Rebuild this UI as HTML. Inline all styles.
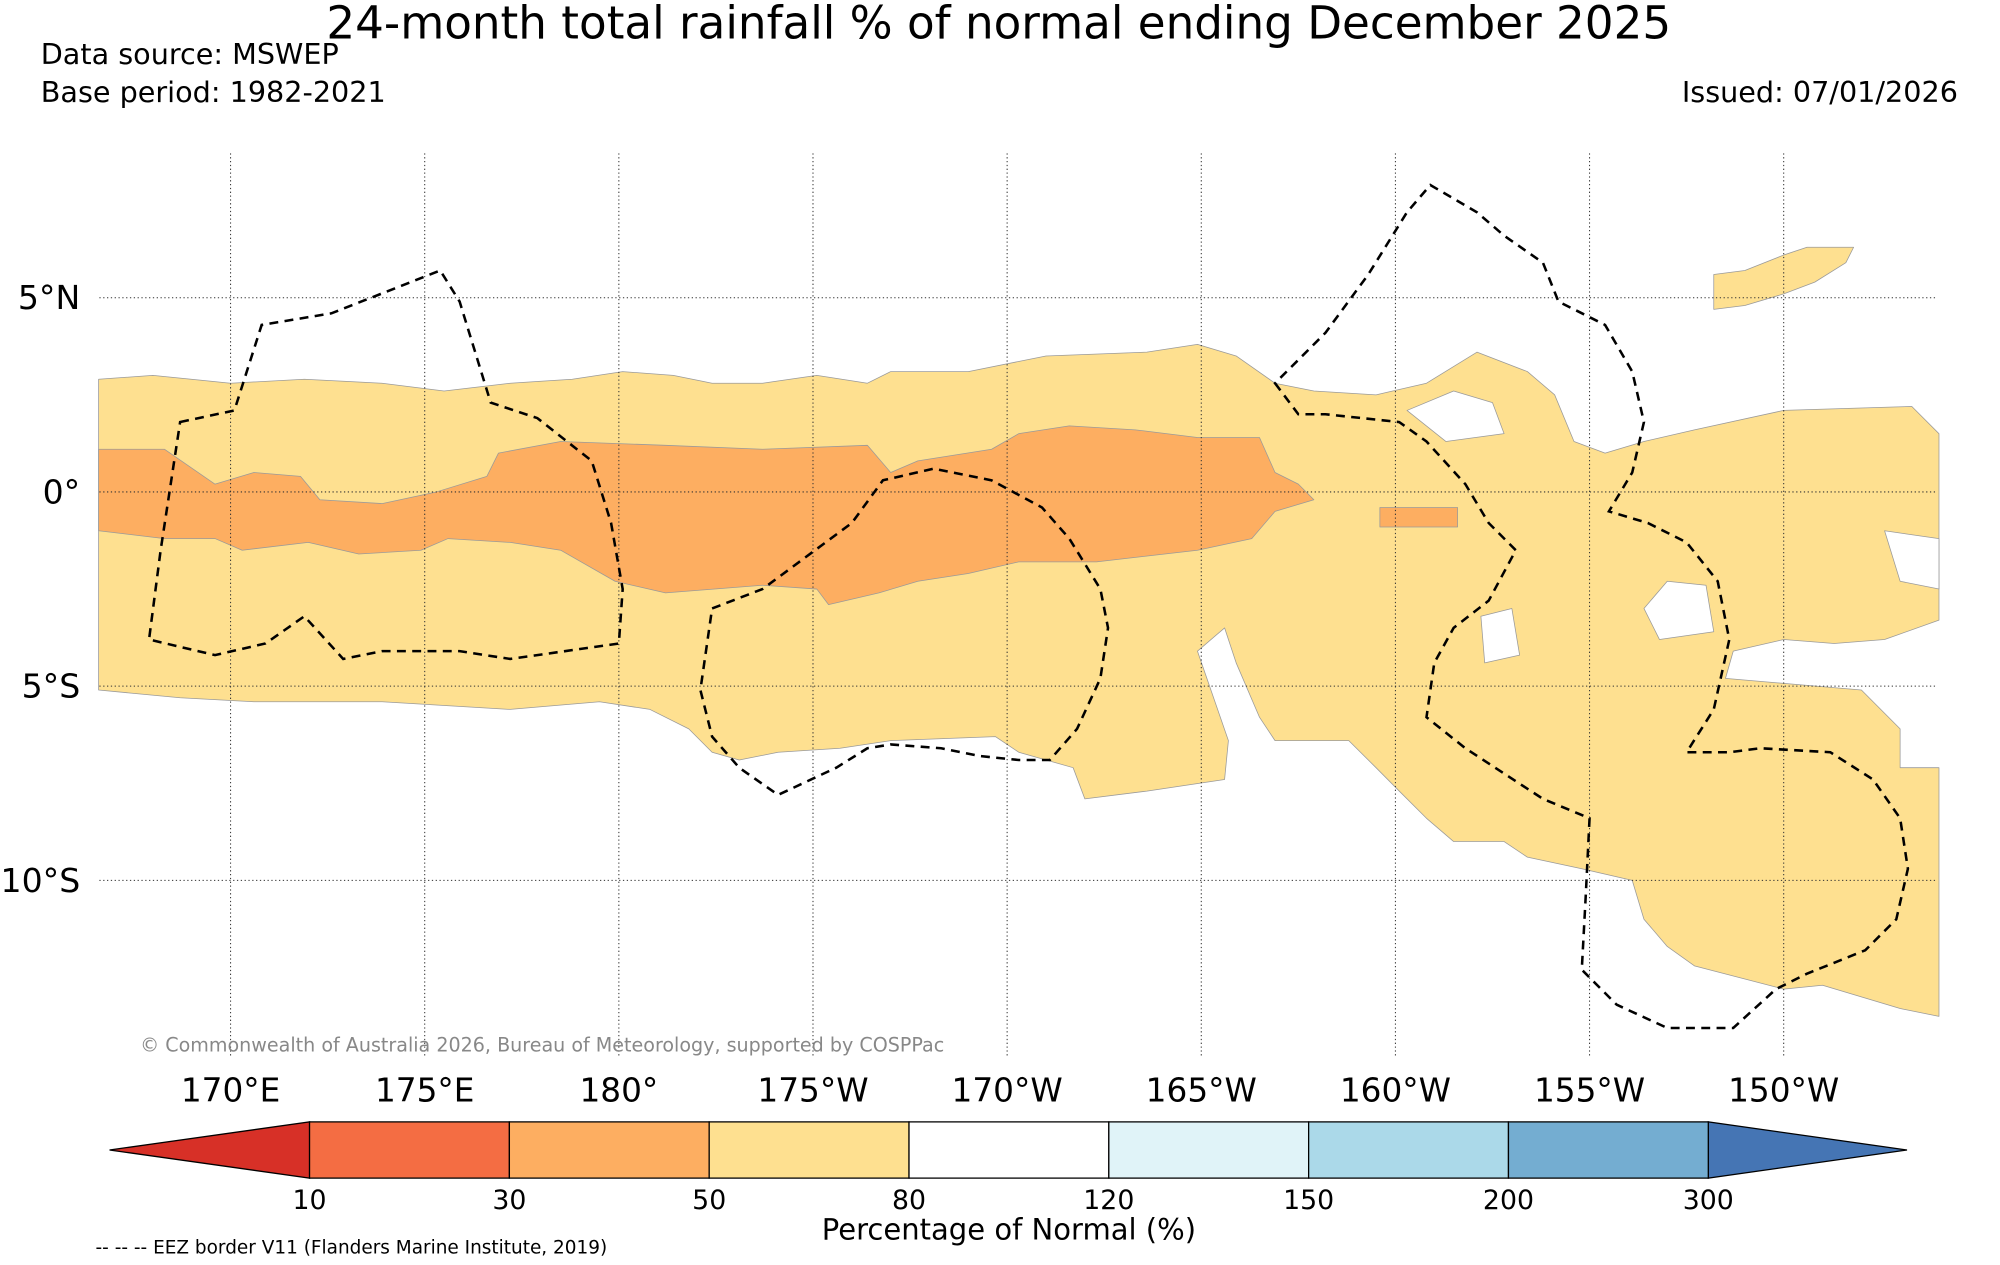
<!DOCTYPE html>
<html><head><meta charset="utf-8">
<style>
html,body{margin:0;padding:0;background:#fff;}
svg{display:block;font-family:"DejaVu Sans","Liberation Sans",sans-serif;}
</style></head>
<body>
<svg id="chart" width="2000" height="1265" viewBox="0 0 1570 990" preserveAspectRatio="none" xmlns="http://www.w3.org/2000/svg">
<text x="784" y="30" font-size="35.5" text-anchor="middle">24-month total rainfall % of normal ending December 2025</text>
<text x="32" y="50" font-size="22.5">Data source: MSWEP</text>
<text x="32" y="80" font-size="22.5">Base period: 1982-2021</text>
<text x="1537" y="80" font-size="22.5" text-anchor="end">Issued: 07/01/2026</text>
<g id="map"></g>
<g id="grid"></g>
<g id="eez"></g>
<text x="110" y="823" font-size="15" fill="#888">© Commonwealth of Australia 2026, Bureau of Meteorology, supported by COSPPac</text>
<g id="cbar"></g>
<text x="792" y="970" font-size="22.8" text-anchor="middle">Percentage of Normal (%)</text>
<text x="75" y="981" font-size="14.5">-- -- -- EEZ border V11 (Flanders Marine Institute, 2019)</text>
</svg>
<script>
// ---- data ----
const lonTicks = [170,175,180,185,190,195,200,205,210];
const lonLabels = ["170°E","175°E","180°","175°W","170°W","165°W","160°W","155°W","150°W"];
const latTicks = [5,0,-5,-10];
const latLabels = ["5°N","0°","5°S","10°S"];
const cbarBounds = [10,30,50,80,120,150,200,300];
const cbarColors = ["#f46d43","#fdae61","#fee090","#ffffff","#e0f3f8","#abd9e9","#74add1"];
const cbarLowColor = "#d73027";
const cbarHighColor = "#4575b4";
const paleRegion = [[166.6,2.9],[168.0,3.0],[170.0,2.8],[171.9,2.9],[173.9,2.8],[175.5,2.6],[177.2,2.8],[178.8,2.9],[180.1,3.1],[181.4,3.0],[182.4,2.8],[183.7,2.8],[185.1,3.0],[186.4,2.8],[187.0,3.1],[189.0,3.1],[191.0,3.5],[193.6,3.6],[194.9,3.8],[195.9,3.5],[196.9,2.8],[197.9,2.6],[199.5,2.5],[200.8,2.8],[202.1,3.6],[203.4,3.1],[204.1,2.5],[204.6,1.3],[205.4,1.0],[206.4,1.3],[207.7,1.6],[210.0,2.1],[213.3,2.2],[214.0,1.5],[214.0,-3.3],[212.6,-3.8],[211.3,-3.9],[210.0,-3.8],[208.7,-4.1],[208.5,-4.8],[212.0,-5.1],[213.0,-6.1],[213.0,-7.1],[214.0,-7.1],[214.0,-13.5],[213.0,-13.3],[211.0,-12.7],[210.0,-12.8],[207.7,-12.2],[207.0,-11.7],[206.4,-11.0],[206.1,-10.0],[204.8,-9.7],[203.4,-9.4],[202.8,-9.0],[201.5,-9.0],[200.8,-8.4],[200.1,-7.7],[199.5,-7.1],[198.8,-6.4],[196.9,-6.4],[196.5,-5.8],[195.9,-4.4],[195.6,-3.5],[194.9,-4.1],[195.7,-6.4],[195.6,-7.4],[193.6,-7.7],[192.0,-7.9],[191.7,-7.1],[190.3,-6.7],[189.7,-6.3],[187.0,-6.4],[185.7,-6.6],[184.1,-6.7],[183.1,-6.9],[182.4,-6.7],[181.8,-6.1],[180.8,-5.6],[179.5,-5.4],[177.2,-5.6],[173.9,-5.4],[170.6,-5.4],[168.7,-5.3],[166.6,-5.1]];
const paleBlobNE = [[208.2,5.6],[209.0,5.7],[210.0,6.1],[210.6,6.3],[211.8,6.3],[211.6,5.9],[210.8,5.4],[210.0,5.1],[209.0,4.8],[208.2,4.7]];
const orangeRegion = [[166.6,1.1],[168.3,1.1],[169.6,0.2],[170.6,0.5],[171.8,0.4],[172.3,-0.2],[173.9,-0.3],[175.3,0.0],[176.6,0.4],[176.9,1.0],[178.5,1.3],[181.2,1.2],[183.7,1.1],[186.4,1.2],[187.0,0.5],[187.7,0.8],[189.6,1.1],[190.3,1.5],[191.6,1.7],[193.3,1.6],[194.9,1.4],[196.5,1.4],[196.9,0.5],[197.5,0.2],[197.9,-0.2],[196.9,-0.5],[196.3,-1.2],[194.9,-1.5],[192.3,-1.8],[190.3,-1.8],[189.0,-2.1],[187.7,-2.3],[186.7,-2.6],[185.4,-2.9],[185.1,-2.5],[183.7,-2.4],[181.2,-2.6],[179.9,-2.3],[178.5,-1.5],[177.2,-1.3],[175.6,-1.2],[174.9,-1.5],[173.3,-1.6],[172.0,-1.3],[170.3,-1.5],[169.6,-1.2],[168.3,-1.2],[166.6,-1.0]];
const orangeBlob = [[199.6,-0.4],[201.6,-0.4],[201.6,-0.9],[199.6,-0.9]];
const whiteHole1 = [[206.4,-3.0],[207.0,-2.3],[208.0,-2.4],[208.2,-3.6],[206.8,-3.8]];
const whiteHole2 = [[202.2,-3.2],[203.0,-3.0],[203.2,-4.2],[202.3,-4.4]];
const whiteHole3 = [[200.3,2.1],[201.5,2.6],[202.5,2.3],[202.8,1.5],[201.3,1.3]];
const whiteHole4 = [[212.6,-1.0],[214.0,-1.2],[214.0,-2.5],[213.0,-2.3]];
const eezGilbert = [[168.7,1.8],[170.1,2.1],[170.8,4.3],[172.6,4.6],[175.4,5.7],[175.9,4.9],[176.7,2.3],[177.9,1.9],[179.3,0.8],[179.8,-0.8],[180.1,-2.5],[180.0,-3.9],[177.2,-4.3],[175.9,-4.1],[173.9,-4.1],[172.9,-4.3],[171.9,-3.2],[170.9,-3.9],[169.6,-4.2],[167.9,-3.8],[168.2,-1.5]];
const eezPhoenix = [[182.4,-3.0],[183.7,-2.5],[186.0,-0.8],[186.8,0.3],[188.1,0.6],[189.6,0.3],[190.9,-0.4],[191.6,-1.2],[192.4,-2.5],[192.6,-3.5],[192.4,-4.8],[191.8,-6.1],[191.1,-6.9],[190.3,-6.9],[189.3,-6.8],[188.3,-6.6],[187.0,-6.5],[186.4,-6.6],[185.6,-7.1],[184.1,-7.8],[183.1,-7.1],[182.4,-6.3],[182.1,-5.1]];
const eezLine = [[196.9,2.8],[197.5,2.0],[198.2,2.0],[200.1,1.8],[200.8,1.3],[201.8,0.2],[202.4,-0.8],[203.1,-1.5],[202.4,-2.8],[201.5,-3.5],[201.0,-4.4],[200.8,-5.8],[201.8,-6.6],[203.8,-7.9],[205.0,-8.4],[204.9,-10.4],[204.8,-12.3],[205.7,-13.2],[207.0,-13.8],[208.7,-13.8],[209.8,-12.8],[210.6,-12.4],[212.1,-11.8],[212.9,-11.0],[213.2,-9.7],[213.0,-8.4],[212.3,-7.4],[211.2,-6.7],[209.4,-6.6],[208.6,-6.7],[207.5,-6.7],[208.2,-5.6],[208.6,-3.8],[208.3,-2.3],[207.5,-1.3],[206.5,-0.8],[205.5,-0.5],[206.1,0.5],[206.4,1.8],[206.1,3.1],[205.4,4.3],[204.2,4.9],[203.8,5.9],[202.8,6.6],[202.1,7.2],[200.9,7.9],[200.3,7.2],[199.3,5.6],[198.2,4.1]];

// ---- axes ----
const NS = "http://www.w3.org/2000/svg";
const mapLeft = 78, mapRight = 1521, mapTop = 120, mapBottom = 826;
const xLon = lon => 181 + (lon - 170) * 30.48;
const yLat = lat => 385 - lat * 30.4;
function mk(tag, attrs, parent){const e=document.createElementNS(NS,tag);for(const k in attrs)e.setAttribute(k,attrs[k]);parent.appendChild(e);return e;}
const pts = arr => arr.map(p => xLon(p[0]).toFixed(1)+","+yLat(p[1]).toFixed(1)).join(" ");

const map = document.getElementById("map");
function poly(arr, fill, name){
  const e = mk("polygon",{points:pts(arr),fill:fill,stroke:"#9a9a9a","stroke-width":0.6,"stroke-linejoin":"round"},map);
  
  
}
poly(paleRegion,"#fee090","rainfall-50-80-region");
poly(paleBlobNE,"#fee090","rainfall-50-80-northeast");
poly(orangeRegion,"#fdae61","rainfall-30-50-region");
poly(orangeBlob,"#fdae61","rainfall-30-50-blob");
poly(whiteHole1,"#ffffff","rainfall-80-120-patch-1");
poly(whiteHole2,"#ffffff","rainfall-80-120-patch-2");
poly(whiteHole3,"#ffffff","rainfall-80-120-patch-3");
poly(whiteHole4,"#ffffff","rainfall-80-120-patch-4");

const grid = document.getElementById("grid");
lonTicks.forEach((lon,i)=>{
  const l = mk("line",{x1:xLon(lon),x2:xLon(lon),y1:mapTop,y2:mapBottom,stroke:"#333","stroke-width":0.8,"stroke-dasharray":"1,2"},grid);
  
  
  const t = mk("text",{x:xLon(lon),y:862,"font-size":25.7,"text-anchor":"middle"},grid);
  t.textContent = lonLabels[i];
  
  
});
latTicks.forEach((lat,i)=>{
  const l = mk("line",{x1:mapLeft,x2:mapRight,y1:yLat(lat),y2:yLat(lat),stroke:"#333","stroke-width":0.8,"stroke-dasharray":"1,2"},grid);
  
  
  const t = mk("text",{x:63,y:yLat(lat)+9,"font-size":26,"text-anchor":"end"},grid);
  t.textContent = latLabels[i];
  
  
});

const eez = document.getElementById("eez");
[[eezGilbert,"eez-gilbert-islands"],[eezPhoenix,"eez-phoenix-islands"],[eezLine,"eez-line-islands"]].forEach(([arr,name])=>{
  const e = mk("polygon",{points:pts(arr),fill:"none",stroke:"#000","stroke-width":2,"stroke-dasharray":"7,5"},eez);
  
  
});

// ---- colorbar ----
const cb = document.getElementById("cbar");
const cbL = 243, cbR = 1341, cbT = 878, cbB = 922;
const segW = (cbR - cbL) / (cbarBounds.length - 1);
const xCb = i => cbL + i * segW;
const lowTip = mk("polygon",{points:`86,900 ${cbL},${cbT} ${cbL},${cbB}`,fill:cbarLowColor,stroke:"#000","stroke-width":1},cb);


const highTip = mk("polygon",{points:`1497,900 ${cbR},${cbT} ${cbR},${cbB}`,fill:cbarHighColor,stroke:"#000","stroke-width":1},cb);


cbarColors.forEach((c,i)=>{
  const r = mk("rect",{x:xCb(i),y:cbT,width:segW,height:cbB-cbT,fill:c,stroke:"#000","stroke-width":1},cb);
  
  
});
cbarBounds.forEach((v,i)=>{
  const t = mk("text",{x:xCb(i),y:946,"font-size":21,"text-anchor":"middle"},cb);
  t.textContent = v;
  
  
});
</script>
</body></html>
